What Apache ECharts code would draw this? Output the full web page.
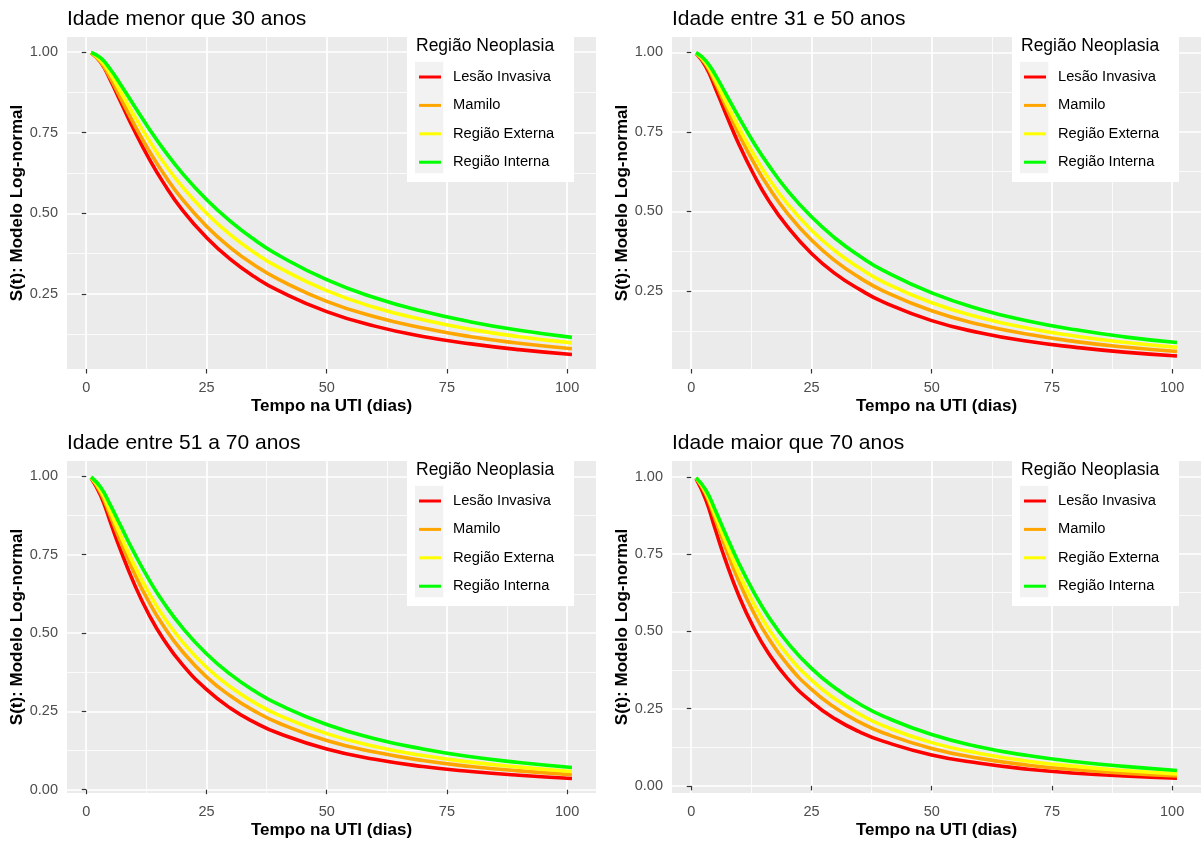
<!DOCTYPE html>
<html>
<head>
<meta charset="utf-8">
<script src="https://cdn.jsdelivr.net/npm/echarts@6/dist/echarts.min.js"></script>
<style>
  html, body { margin: 0; padding: 0; background: #ffffff; }
  #chart { width: 1203px; height: 841px; }
</style>
</head>
<body>
<div id="chart"></div>
<script>
// Tempo na UTI (dias) at which the fitted survival curves are evaluated
const tempo = [1, 3, 5, 7, 10, 13, 16, 20, 25, 30, 35, 40, 50, 60, 70, 80, 90, 101];

const regioes = ['Lesão Invasiva', 'Mamilo', 'Região Externa', 'Região Interna'];
const cores = ['#ff0000', '#ffa500', '#ffff00', '#00ff00'];
const titulos = ['Idade menor que 30 anos', 'Idade entre 31 e 50 anos',
                 'Idade entre 51 a 70 anos', 'Idade maior que 70 anos'];

const xTicks = [0, 25, 50, 75, 100];
const xMinor = [12.5, 37.5, 62.5, 87.5];
const yTicksTop = [0.25, 0.5, 0.75, 1];
const yTicksBottom = [0, 0.25, 0.5, 0.75, 1];
const yMinor = [0.125, 0.375, 0.625, 0.875];

// S(t) - modelo log-normal, idade < 30
const menor30Lesao   = [0.998, 0.969, 0.914, 0.851, 0.757, 0.671, 0.596, 0.510, 0.425, 0.357, 0.303, 0.260, 0.195, 0.150, 0.118, 0.095, 0.077, 0.062];
const menor30Mamilo  = [0.998, 0.970, 0.920, 0.862, 0.775, 0.696, 0.625, 0.543, 0.460, 0.393, 0.339, 0.295, 0.227, 0.179, 0.144, 0.117, 0.097, 0.080];
const menor30Externa = [0.999, 0.975, 0.933, 0.881, 0.802, 0.728, 0.660, 0.582, 0.500, 0.433, 0.378, 0.332, 0.260, 0.208, 0.170, 0.140, 0.117, 0.098];
const menor30Interna = [0.999, 0.982, 0.947, 0.903, 0.833, 0.764, 0.700, 0.624, 0.543, 0.475, 0.418, 0.370, 0.294, 0.238, 0.196, 0.163, 0.137, 0.115];

// idade 31 a 50
const de31a50Lesao   = [0.997, 0.956, 0.888, 0.814, 0.708, 0.616, 0.537, 0.452, 0.368, 0.304, 0.255, 0.215, 0.157, 0.119, 0.092, 0.073, 0.058, 0.046];
const de31a50Mamilo  = [0.998, 0.963, 0.904, 0.837, 0.740, 0.653, 0.578, 0.494, 0.410, 0.344, 0.292, 0.250, 0.188, 0.145, 0.114, 0.091, 0.074, 0.060];
const de31a50Externa = [0.998, 0.967, 0.913, 0.851, 0.761, 0.679, 0.606, 0.524, 0.441, 0.375, 0.322, 0.278, 0.213, 0.167, 0.133, 0.108, 0.089, 0.073];
const de31a50Interna = [0.999, 0.974, 0.929, 0.875, 0.793, 0.716, 0.647, 0.566, 0.483, 0.415, 0.360, 0.314, 0.244, 0.193, 0.156, 0.128, 0.106, 0.088];

// idade 51 a 70
const de51a70Lesao   = [0.995, 0.939, 0.855, 0.770, 0.656, 0.560, 0.482, 0.399, 0.320, 0.260, 0.215, 0.180, 0.130, 0.097, 0.074, 0.058, 0.046, 0.036];
const de51a70Mamilo  = [0.996, 0.948, 0.874, 0.797, 0.691, 0.600, 0.524, 0.441, 0.360, 0.299, 0.251, 0.213, 0.157, 0.120, 0.093, 0.074, 0.060, 0.048];
const de51a70Externa = [0.997, 0.955, 0.888, 0.817, 0.716, 0.629, 0.554, 0.472, 0.391, 0.328, 0.278, 0.238, 0.179, 0.138, 0.109, 0.088, 0.072, 0.058];
const de51a70Interna = [0.998, 0.965, 0.909, 0.847, 0.755, 0.672, 0.599, 0.517, 0.434, 0.368, 0.315, 0.272, 0.208, 0.163, 0.130, 0.105, 0.087, 0.071];

// idade > 70
const maior70Lesao   = [0.994, 0.927, 0.830, 0.735, 0.611, 0.511, 0.431, 0.348, 0.272, 0.216, 0.175, 0.144, 0.100, 0.073, 0.054, 0.041, 0.032, 0.025];
const maior70Mamilo  = [0.996, 0.944, 0.862, 0.776, 0.658, 0.560, 0.479, 0.393, 0.312, 0.252, 0.206, 0.171, 0.121, 0.089, 0.067, 0.052, 0.041, 0.032];
const maior70Externa = [0.997, 0.950, 0.875, 0.796, 0.685, 0.590, 0.510, 0.424, 0.342, 0.280, 0.232, 0.194, 0.140, 0.105, 0.080, 0.063, 0.050, 0.039];
const maior70Interna = [0.997, 0.958, 0.892, 0.820, 0.717, 0.627, 0.549, 0.464, 0.380, 0.316, 0.265, 0.225, 0.166, 0.126, 0.098, 0.078, 0.063, 0.050];

const FONT = '"Liberation Sans", Arial, Helvetica, sans-serif';

// panel layout: grid position and y-axis extent for each age group
const paineis = [
  { left: 67,  top: 37,  ymin: 0.017,  ymax: 1.047, yTicks: yTicksTop,
    curvas: [menor30Lesao, menor30Mamilo, menor30Externa, menor30Interna] },
  { left: 672, top: 37,  ymin: 0.005,  ymax: 1.048, yTicks: yTicksTop,
    curvas: [de31a50Lesao, de31a50Mamilo, de31a50Externa, de31a50Interna] },
  { left: 67,  top: 461, ymin: -0.0105, ymax: 1.049, yTicks: yTicksBottom,
    curvas: [de51a70Lesao, de51a70Mamilo, de51a70Externa, de51a70Interna] },
  { left: 672, top: 461, ymin: -0.023, ymax: 1.051, yTicks: yTicksBottom,
    curvas: [maior70Lesao, maior70Mamilo, maior70Externa, maior70Interna] }
];
const GW = 529, GH = 332;

const grids = [], xAxes = [], yAxes = [], series = [], legends = [], titles = [], graphics = [];

paineis.forEach((p, i) => {
  grids.push({ left: p.left, top: p.top, width: GW, height: GH, show: true,
               backgroundColor: '#ebebeb', borderWidth: 0 });

  titles.push({ text: titulos[i], left: p.left, top: p.top - 28, padding: 0,
                textStyle: { fontFamily: FONT, fontSize: 21, fontWeight: 'normal', color: '#000000' } });

  // major x axis (labels, ticks, major grid)
  xAxes.push({
    type: 'value', gridIndex: i, min: -4, max: 106, position: 'bottom',
    name: 'Tempo na UTI (dias)', nameLocation: 'middle', nameGap: 29,
    nameTextStyle: { fontFamily: FONT, fontSize: 17, fontWeight: 'bold', color: '#000000' },
    axisLine: { show: false },
    axisTick: { show: true, customValues: xTicks, length: 4.5, lineStyle: { color: '#333333', width: 1.2 } },
    axisLabel: { customValues: xTicks, color: '#4d4d4d', fontFamily: FONT, fontSize: 14.5, margin: 11 },
    splitLine: { show: true, lineStyle: { color: '#ffffff', width: 1.7 } }
  });
  // minor x grid
  xAxes.push({
    type: 'value', gridIndex: i, min: -4, max: 106, position: 'bottom',
    axisLine: { show: false },
    axisTick: { show: false, customValues: xMinor },
    axisLabel: { show: false, customValues: xMinor },
    splitLine: { show: true, lineStyle: { color: '#ffffff', width: 0.8 } }
  });
  // major y axis
  yAxes.push({
    type: 'value', gridIndex: i, min: p.ymin, max: p.ymax, position: 'left',
    name: 'S(t): Modelo Log-normal', nameLocation: 'middle', nameGap: 41, nameRotate: 90,
    nameTextStyle: { fontFamily: FONT, fontSize: 17, fontWeight: 'bold', color: '#000000' },
    axisLine: { show: false },
    axisTick: { show: true, customValues: p.yTicks, length: 4.5, lineStyle: { color: '#333333', width: 1.2 } },
    axisLabel: { customValues: p.yTicks, color: '#4d4d4d', fontFamily: FONT, fontSize: 14.5, margin: 9,
                 formatter: v => Number(v).toFixed(2) },
    splitLine: { show: true, lineStyle: { color: '#ffffff', width: 1.7 } }
  });
  // minor y grid
  yAxes.push({
    type: 'value', gridIndex: i, min: p.ymin, max: p.ymax, position: 'left',
    axisLine: { show: false },
    axisTick: { show: false, customValues: yMinor },
    axisLabel: { show: false, customValues: yMinor },
    splitLine: { show: true, lineStyle: { color: '#ffffff', width: 0.8 } }
  });

  p.curvas.forEach((valores, j) => {
    series.push({
      type: 'line', name: regioes[j], xAxisIndex: 2 * i, yAxisIndex: 2 * i,
      data: tempo.map((t, k) => [t, valores[k]]),
      showSymbol: false, smooth: 0.5, silent: true,
      lineStyle: { color: cores[j], width: 3.6 }, itemStyle: { color: cores[j] },
      z: 2 + j * 0.01
    });
  });

  // legend box, key background and title
  graphics.push({ type: 'rect', left: p.left + 340, top: p.top - 7, z: 3,
                  shape: { width: 167, height: 152 }, style: { fill: '#ffffff' } });
  graphics.push({ type: 'rect', left: p.left + 348, top: p.top + 24.7, z: 3,
                  shape: { width: 28.3, height: 111.6 }, style: { fill: '#f2f2f2' } });
  graphics.push({ type: 'text', left: p.left + 349, top: p.top + 0.5, z: 3,
                  style: { text: 'Região Neoplasia', fill: '#000000', font: '17.5px ' + FONT } });

  legends.push({
    orient: 'vertical', left: p.left + 352, top: p.top + 32, padding: 0,
    itemWidth: 22, itemHeight: 3, itemGap: 12.4, icon: 'rect', selectedMode: false,
    data: regioes.map((r, j) => ({ name: r, itemStyle: { color: cores[j] } })),
    textStyle: { fontFamily: FONT, fontSize: 14.7, color: '#000000', lineHeight: 16, padding: [0, 0, 0, 7] }
  });
});

const chart = echarts.init(document.getElementById('chart'), null, { renderer: 'canvas' });
chart.setOption({
  animation: false,
  backgroundColor: '#ffffff',
  title: titles,
  grid: grids,
  xAxis: xAxes,
  yAxis: yAxes,
  legend: legends,
  graphic: graphics,
  series: series
});
</script>
</body>
</html>
